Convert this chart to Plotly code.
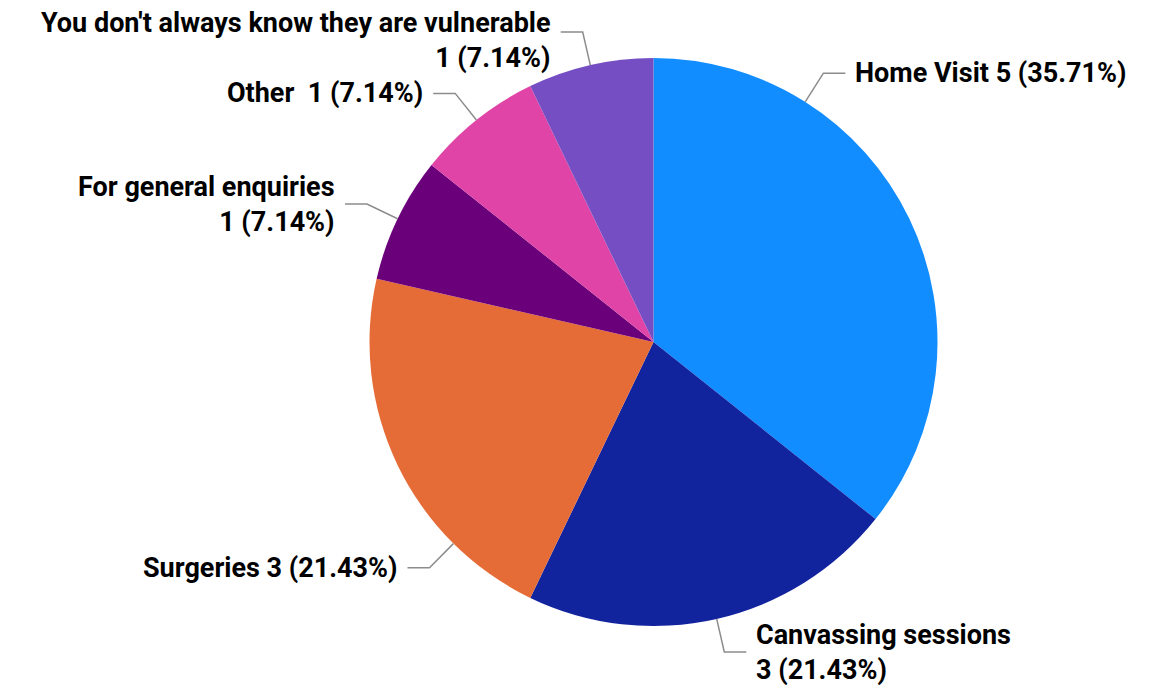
import math
import plotly.graph_objects as go

# ---- data ----
categories = ["Home Visit", "Canvassing sessions", "Surgeries", "For general enquiries",
              "Other ", "You don't always know they are vulnerable"]
values = [5, 3, 3, 1, 1, 1]
colors = ["#118DFF", "#12239E", "#E66C37", "#6B007B", "#E044A7", "#744EC2"]

# ---- label layout tweaks (style only) ----
wrap_label = [False, True, False, True, False, True]
label_angle_shift = [-32.0, 0.0, -19.5, 0.0, 0.0, 0.0]
label_text_nudge_y = [0, 0, 0, 0, 0, 9]

W, H = 1154, 690
OFF = 8  # browser body margin
CX, CY, R = 653.5 - OFF, 342.0 - OFF, 284.0
ELBOW = 34
HORIZ = 22
GAP = 8
FONT = dict(family="Roboto", size=27, color="#000000")

fig = go.Figure()
fig.add_trace(go.Pie(
    labels=categories, values=values, sort=False, direction="clockwise", rotation=0,
    marker=dict(colors=colors, line=dict(width=0)),
    textinfo="none", hoverinfo="label+value+percent", showlegend=False,
    domain=dict(x=[(CX - R) / W, (CX + R) / W], y=[1 - (CY + R) / H, 1 - (CY - R) / H]),
))

total = sum(values)
cum = 0
shapes = []
annotations = []
for i, (cat, v) in enumerate(zip(categories, values)):
    mid = (cum + v / 2) / total * 360.0
    cum += v
    ang = math.radians(mid + label_angle_shift[i])
    sx, sy = math.sin(ang), -math.cos(ang)
    ax, ay = CX + R * sx, CY + R * sy
    ex, ey = CX + (R + ELBOW) * sx, CY + (R + ELBOW) * sy
    right = sx >= 0
    hx = ex + HORIZ if right else ex - HORIZ
    shapes.append(dict(type="path", xref="x", yref="y",
                       path=f"M {ax:.1f} {ay:.1f} L {ex:.1f} {ey:.1f} L {hx:.1f} {ey:.1f}",
                       line=dict(color="#8C8C8C", width=1.5)))
    pct = v / total * 100
    vtxt = f"{v} ({pct:.2f}%)"
    txt = f"{cat}<br>{vtxt}" if wrap_label[i] else f"{cat} {vtxt}"
    tx = hx + GAP if right else hx - GAP
    annotations.append(dict(x=tx, y=ey + label_text_nudge_y[i], xref="x", yref="y",
                            text=f"<b>{txt}</b>",
                            showarrow=False, xanchor="left" if right else "right",
                            yanchor="middle", align="left" if right else "right",
                            font=FONT))

fig.update_layout(
    width=W, height=H, margin=dict(l=0, r=0, t=0, b=0),
    paper_bgcolor="white", plot_bgcolor="rgba(0,0,0,0)",
    xaxis=dict(range=[0, W], visible=False, fixedrange=True, domain=[0, 1]),
    yaxis=dict(range=[H, 0], visible=False, fixedrange=True, domain=[0, 1]),
    shapes=shapes, annotations=annotations,
)
fig.write_html("out.html")
